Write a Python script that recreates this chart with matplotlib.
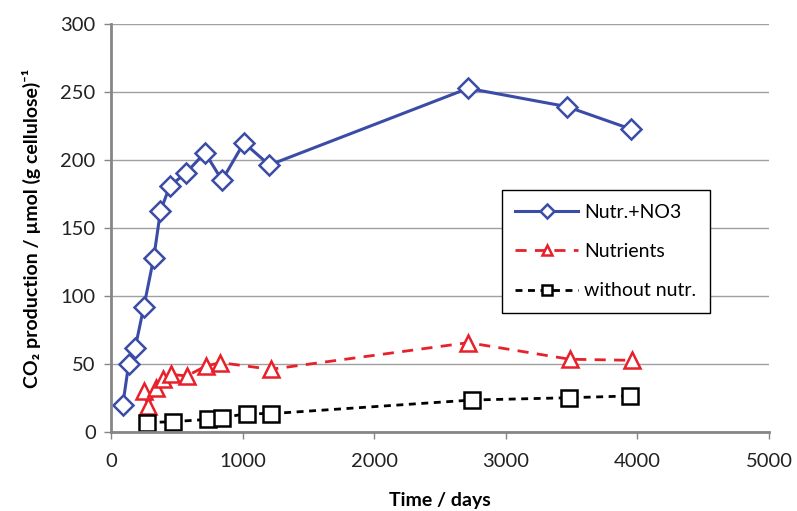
import matplotlib.pyplot as plt

# (days, umol/g cellulose)
t_no3 = [89, 134, 183, 249, 325, 376, 447, 567, 714, 844, 1010, 1203, 2714, 3466, 3949]
co2_no3 = [19.6, 49.8, 61.5, 91.9, 128.2, 162.5, 180.9, 190.2, 205.4, 185.1, 212.7, 196.3, 252.7, 239.2, 222.8]

t_nutr = [249, 280, 343, 394, 453, 577, 720, 832, 1214, 2714, 3486, 3957]
co2_nutr = [30.1, 19.1, 32.6, 38.7, 42.4, 41.2, 48.5, 51.0, 46.1, 65.7, 53.5, 52.7]

t_none = [275, 470, 738, 847, 1031, 1216, 2740, 3480, 3944]
co2_none = [6.9, 7.6, 9.3, 10.5, 13.5, 13.5, 23.5, 25.2, 26.5]

labels = ['Nutr.+NO3', 'Nutrients', 'without nutr.']

plt.rcParams['font.family'] = ['Lato', 'DejaVu Sans']

fig = plt.figure(figsize=(7.97, 5.11), dpi=100)
ax = fig.add_axes([111 / 797, 1 - 432 / 511, 658 / 797, 408 / 511])

ax.plot(t_no3, co2_no3, color='#3a4ca6', lw=2.2, marker='D', ms=10,
        mfc='white', mec='#3a4ca6', mew=1.8, label=labels[0])
ax.plot(t_nutr, co2_nutr, color='#e8202a', lw=2.0, ls=(0, (4, 3)), marker='^', ms=11,
        mfc='white', mec='#e8202a', mew=1.8, label=labels[1])
ax.plot(t_none, co2_none, color='black', lw=2.0, ls=(0, (2.5, 2)), marker='s', ms=11,
        mfc='white', mec='black', mew=1.8, label=labels[2])

ax.set_xlim(0, 5000)
ax.set_ylim(0, 300)
ax.set_xticks(range(0, 5001, 1000))
ax.set_yticks(range(0, 301, 50))
ax.grid(axis='y', color='#a0a0a0', lw=1)
ax.set_axisbelow(True)

for s in ['top', 'right']:
    ax.spines[s].set_visible(False)
for s in ['left', 'bottom']:
    ax.spines[s].set_color('#868686')
    ax.spines[s].set_linewidth(2)

ax.tick_params(axis='both', direction='out', length=5, width=1, color='#868686',
               labelsize=14.5, labelcolor='#222222')
ax.tick_params(axis='x', pad=10)
ax.tick_params(axis='y', pad=6)

ax.set_xlabel('Time / days', fontsize=14, fontweight='bold', labelpad=16)
ax.set_ylabel('CO₂ production / µmol (g cellulose)⁻¹', fontsize=14,
              fontweight='bold', labelpad=14)

leg = ax.legend(loc='upper left', bbox_to_anchor=(0.594, 0.593), fontsize=14,
                frameon=True, fancybox=False, edgecolor='black', framealpha=1,
                handlelength=3.2, borderpad=0.7, labelspacing=1.15, handletextpad=0.35,
                markerscale=0.7, borderaxespad=0)
leg.get_frame().set_linewidth(1)

fig.savefig('out.png', dpi=100)
